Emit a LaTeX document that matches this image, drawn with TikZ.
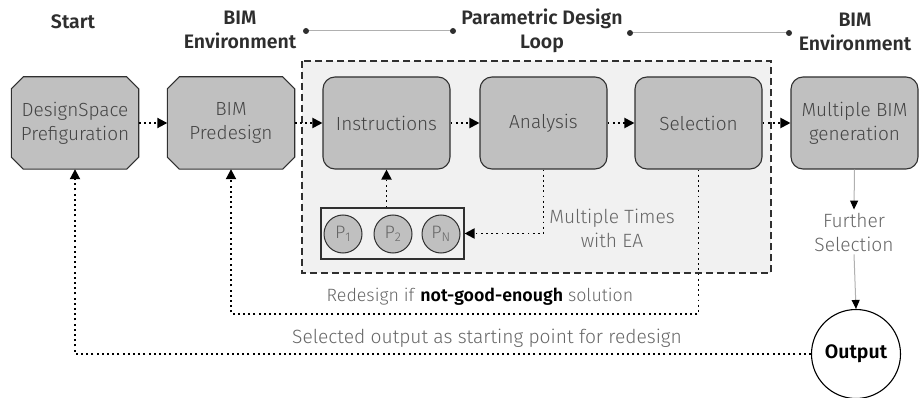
\documentclass[tikz,border=0pt]{standalone}
\usepackage{fontspec}
\setmainfont{Fira Sans Light}[BoldFont={Fira Sans SemiBold}]
\usetikzlibrary{arrows.meta,backgrounds}
\definecolor{boxfill}{HTML}{C0C0C0}
\definecolor{linecol}{HTML}{303030}
\definecolor{txtcol}{HTML}{444444}
\definecolor{notecol}{HTML}{666666}
\definecolor{hdrcol}{HTML}{2E2E2E}
\definecolor{loopfill}{HTML}{F1F1F1}
\definecolor{hline}{HTML}{B0B0B0}
\begin{document}
\begin{tikzpicture}[x=1pt,y=-1pt,
  boxtext/.style={align=center, font=\fontsize{19}{24}\selectfont, text=txtcol, inner sep=0pt,
    minimum width=127pt, minimum height=92pt},
  rbox/.style={boxtext, draw=linecol, fill=boxfill, line width=1.1pt, rounded corners=12pt},
  octbox/.style={boxtext},
  octline/.style={draw=linecol, fill=boxfill, line width=1.1pt},
  hdr/.style={align=center, font=\bfseries\fontsize{19.5}{24}\selectfont, text=hdrcol, inner sep=1pt},
  note/.style={align=center, font=\fontsize{19.2}{24}\selectfont, text=notecol, inner sep=3pt},
  pcirc/.style={circle, draw=linecol, fill=boxfill, line width=1pt, minimum size=38pt, inner sep=0pt,
    font=\fontsize{18}{20}\selectfont, text=notecol},
  pframe/.style={draw=linecol, line width=1.1pt, minimum width=143pt, minimum height=51pt, inner sep=0pt},
  outc/.style={circle, draw=black, line width=1.1pt, minimum size=89pt, inner sep=0pt,
    font=\bfseries\fontsize{19.5}{22}\selectfont},
  dotline/.style={line width=1.9pt, dash pattern=on 1.9pt off 3.3pt},
  dotarrow/.style={dotline, -{Triangle[length=10pt,width=10pt]}},
  grayarrow/.style={draw=hline, line width=1pt, -{Triangle[length=9pt,width=8pt,black]}},
  hdrline/.style={draw=hline, line width=1pt},
  hdot/.style={fill=hdrcol}]
\useasboundingbox (0,0) rectangle (921,398);

% headers
\node[hdr] (hstart) at (73,22) {Start};
\node[hdr] (henv1) at (240,30) {BIM\\Environment};
\node[hdr] (hpdl) at (542,31) {Parametric Design\\Loop};
\node[hdr] (henv2) at (855,32) {BIM\\Environment};
\coordinate (l1a) at (306,31);
\coordinate (l1b) at (453,31);
\coordinate (l2a) at (630,33);
\coordinate (l2b) at (789,33);
\draw[hdrline] (l1a) -- (l1b);
\draw[hdrline] (l2a) -- (l2b);
\fill[hdot] (l1a) circle (3pt) (l1b) circle (3pt) (l2a) circle (3pt) (l2b) circle (3pt);

% main boxes
\node[octbox] (b1) at (75,123) {DesignSpace\\Prefiguration};
\node[octbox] (b2) at (231,123) {BIM\\Predesign};
\node[rbox] (ins) at (386.5,123) {Instructions};
\node[rbox] (ana) at (543.5,123) {Analysis};
\node[rbox] (sel) at (698.5,123) {Selection};
\node[rbox] (mb) at (854.5,123) {Multiple BIM\\generation};

% parameters
\node[pcirc] (p1) at (343,234) {P\textsubscript{1}};
\node[pcirc] (p2) at (393,234) {P\textsubscript{2}};
\node[pcirc] (pn) at (441,234) {P\textsubscript{N}};
\node[pframe] (pbox) at (392.5,233.5) {};

% notes
\node[note] (mt) at (612,228) {Multiple Times\\with EA};
\node[note] (fs) at (854,232) {Further\\Selection};
\node[note, font=\fontsize{17.8}{24}\selectfont] (rd) at (480,297) {Redesign if \textbf{\color{black}not-good-enough} solution};
\node[note] (so) at (487,338) {Selected output as starting point for redesign};
\node[outc] (out) at (856,354) {Output};

\begin{scope}[on background layer]
  \draw[draw=linecol, fill=loopfill, line width=1.5pt, dash pattern=on 7pt off 4pt] (302,61) rectangle (771,273);
  \foreach \b in {b1,b2}{
    \draw[octline] ([xshift=12pt]\b.north west) -- ([xshift=-12pt]\b.north east) -- ([yshift=-12pt]\b.north east)
      -- ([yshift=12pt]\b.south east) -- ([xshift=-12pt]\b.south east) -- ([xshift=12pt]\b.south west)
      -- ([yshift=12pt]\b.south west) -- ([yshift=-12pt]\b.north west) -- cycle;
  }
\end{scope}

% connectors
\draw[dotarrow] (b1.east) -- (b2.west);
\draw[dotarrow] (b2.east) -- (ins.west);
\draw[dotarrow] (ins.east) -- (ana.west);
\draw[dotarrow] (ana.east) -- (sel.west);
\draw[dotarrow] (sel.east) -- (mb.west);
\draw[dotarrow] (pbox.north -| ins.south) -- (ins.south);
\draw[dotarrow] (ana.south) |- (pbox.east);
\coordinate (rdc) at (0,314);
\draw[dotarrow] (sel.south) -- (sel.south |- rdc) -| (b2.south);
\draw[dotarrow] (out.west) -| (b1.south);
\draw[grayarrow] (mb.south) -- (fs.north);
\draw[grayarrow] (fs.south) -- (out.north);
\end{tikzpicture}
\end{document}
